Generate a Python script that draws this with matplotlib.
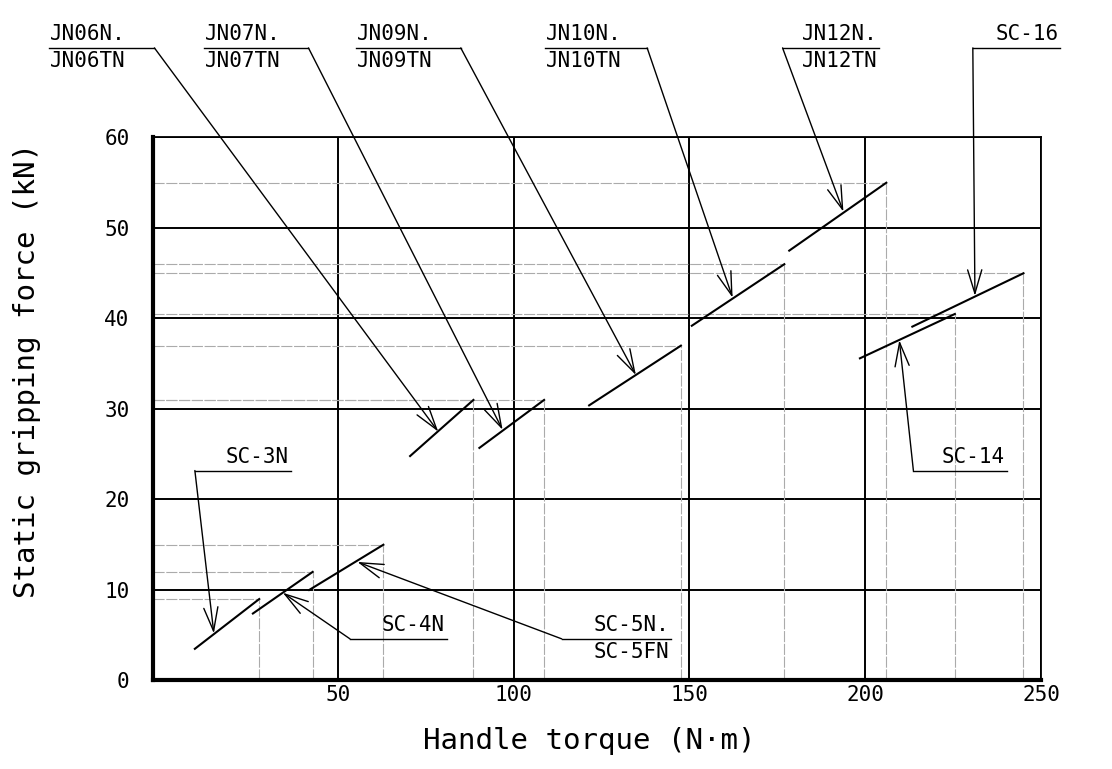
import matplotlib
matplotlib.use('Agg')
import matplotlib.pyplot as plt

plt.rcParams['font.family'] = ['DejaVu Sans Mono']

# clamp characteristic segments (torque kN-m -> force kN)
seg_names = ['SC-3N', 'SC-4N', 'SC-5N', 'JN06N', 'JN07N', 'JN09N', 'JN10N', 'JN12N', 'SC-14', 'SC-16']
seg_x0 = [9.4, 25.9, 41.9, 70.6, 90.3, 121.5, 150.7, 178.4, 198.5, 213.4]
seg_y0 = [3.5, 7.4, 10.0, 24.8, 25.7, 30.4, 39.2, 47.5, 35.6, 39.1]
seg_x1 = [27.7, 42.9, 63.0, 88.6, 108.7, 147.6, 177.0, 206.0, 225.5, 245.0]
seg_y1 = [9.0, 12.0, 15.0, 31.0, 31.0, 37.0, 46.0, 55.0, 40.5, 45.0]

# callouts: first line, second line, arrow tip, leader start, underline end, text alignment
lab_top = ['JN06N.', 'JN07N.', 'JN09N.', 'JN10N.', 'JN12N.', 'SC-16', 'SC-3N', 'SC-4N', 'SC-5N.', 'SC-14']
lab_bot = ['JN06TN', 'JN07TN', 'JN09TN', 'JN10TN', 'JN12TN', '', '', '', 'SC-5FN', '']
tip_x = [78.6, 96.9, 134.8, 162.3, 193.8, 231.2, 14.8, 34.4, 55.6, 209.7]
tip_y = [27.5, 27.7, 33.75, 42.3, 51.8, 42.5, 5.2, 9.7, 13.1, 37.6]
lead_x = [-2.1, 41.7, 85.0, 138.0, 176.5, 230.6, 9.4, 53.5, 113.7, 213.7]
lead_y = [69.9, 69.9, 69.9, 69.9, 69.9, 69.9, 23.2, 4.6, 4.6, 23.2]
ul_x0 = [-32.0, 12.0, 55.2, 109.0, 176.5, 230.6, 9.4, 53.5, 113.7, 213.7]
ul_x1 = [-2.1, 41.7, 85.0, 138.0, 204.0, 255.4, 36.6, 81.0, 144.7, 240.2]
lab_align = ['left', 'left', 'left', 'left', 'right', 'right', 'right', 'right', 'right', 'right']

xticks = [50, 100, 150, 200, 250]
yticks = [0, 10, 20, 30, 40, 50, 60]

fig = plt.figure(figsize=(11.12, 7.69), dpi=100)
ax = fig.add_axes([0.1376, 0.1151, 0.7986, 0.7061])
ax.set_xlim(-2.5, 250)
ax.set_ylim(0, 60)
ax.set_xticks(xticks)
ax.set_yticks(yticks)
ax.tick_params(length=0, labelsize=15)
ax.tick_params(axis='x', pad=3)
ax.tick_params(axis='y', pad=17)
ax.grid(color='black', lw=1.4, zorder=1)
for s in ['left', 'bottom']:
    ax.spines[s].set_linewidth(3)
for s in ['top', 'right']:
    ax.spines[s].set_linewidth(1.3)

# thin grey projection lines
for i in range(len(seg_names)):
    ax.plot([-2.5, seg_x1[i]], [seg_y1[i], seg_y1[i]], color='#ababab', lw=0.8, ls=(0, (10, 1.5)), zorder=2)
    ax.plot([seg_x1[i], seg_x1[i]], [0, seg_y1[i]], color='#ababab', lw=0.8, ls=(0, (10, 1.5)), zorder=2)

for i in range(len(seg_names)):
    ax.plot([seg_x0[i], seg_x1[i]], [seg_y0[i], seg_y1[i]], color='black', lw=1.5, zorder=4)

for i in range(len(lab_top)):
    ax.plot([ul_x0[i], ul_x1[i]], [lead_y[i], lead_y[i]], color='black', lw=1.0, clip_on=False, zorder=5)
    ax.annotate('', xy=(tip_x[i], tip_y[i]), xytext=(lead_x[i], lead_y[i]),
                arrowprops=dict(arrowstyle='->,head_length=1.0,head_width=0.3', color='black',
                                lw=1.0, shrinkA=0, shrinkB=0, mutation_scale=17),
                annotation_clip=False, zorder=5)
    tx = ul_x0[i] + 0.3 if lab_align[i] == 'left' else ul_x1[i] - 0.5
    ax.text(tx, lead_y[i] + 0.85, lab_top[i], ha=lab_align[i], va='baseline', fontsize=15, clip_on=False)
    if lab_bot[i]:
        ax.text(tx, lead_y[i] - 2.15, lab_bot[i], ha=lab_align[i], va='baseline', fontsize=15, clip_on=False)

fig.text(589 / 1112, 1 - 741 / 769, 'Handle torque (N·m)', ha='center', va='center', fontsize=21)
fig.text(27 / 1112, 1 - 370 / 769, 'Static gripping force (kN)', ha='center', va='center',
         rotation=90, fontsize=21)

fig.savefig('out.png', dpi=100)
